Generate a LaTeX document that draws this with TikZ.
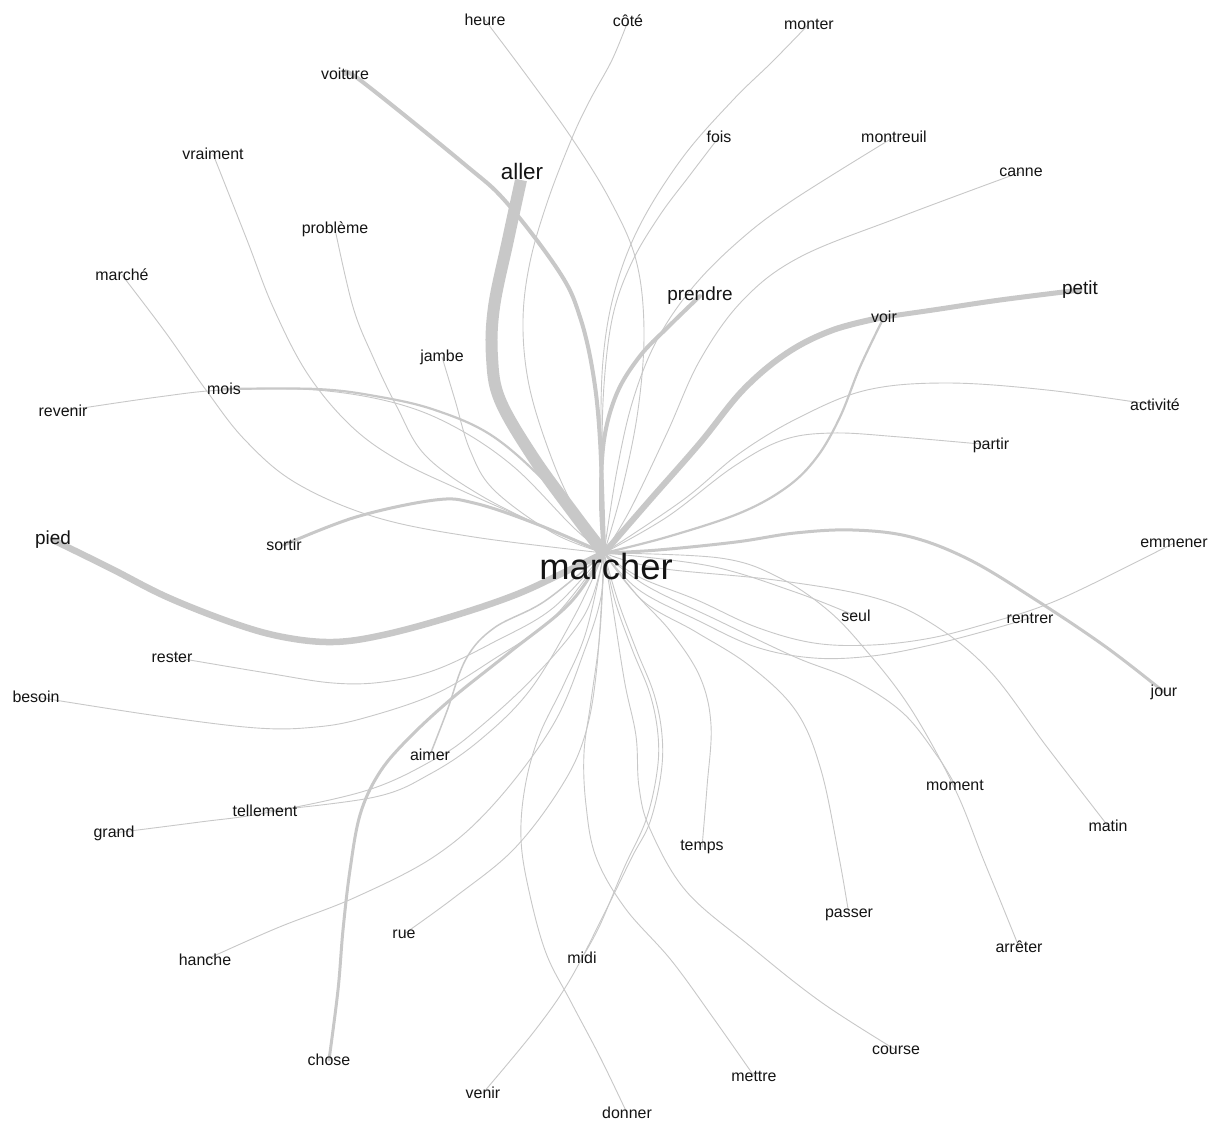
\documentclass[tikz,border=0pt]{standalone}
\usepackage{fontspec}
\setmainfont{Liberation Sans}
\definecolor{edgec}{RGB}{200,200,200}
\definecolor{txt}{RGB}{20,20,20}
\pgfdeclarelayer{edgelayer}
\pgfsetlayers{edgelayer,main}
\tikzset{
  lbl/.style={font=\fontsize{16}{17}\selectfont, inner sep=0pt, text=txt},
  lblm/.style={font=\fontsize{19}{20}\selectfont, inner sep=0pt, text=txt},
  lbla/.style={font=\fontsize{22.5}{24}\selectfont, inner sep=0pt, text=txt},
  lblh/.style={font=\fontsize{36.5}{38}\selectfont, inner sep=0pt, text=txt},
  lnk/.style={draw=edgec, line width=0.9bp, line cap=round, line join=round},
  lnkw/.style={draw=edgec, line width=#1, line cap=round, line join=round},
  curv/.style={smooth, tension=0.6}
}
\begin{document}
\begin{tikzpicture}[x=1bp,y=-1bp]
\useasboundingbox (0,0) rectangle (1210,1122);

% nodes
\node[lblh] (marcher) at (606,566) {marcher};
\coordinate (hub) at (604,553);
\node[lbl] (heure) at (485,20) {heure};
\node[lbl] (cote) at (628,21) {côté};
\node[lbl] (monter) at (809,24) {monter};
\node[lbl] (voiture) at (345,74) {voiture};
\node[lbl] (fois) at (719,137) {fois};
\node[lbl] (montreuil) at (894,137) {montreuil};
\node[lbl] (vraiment) at (213,154) {vraiment};
\node[lbla] (aller) at (522,171) {aller};
\node[lbl] (canne) at (1021,172) {canne};
\node[lbl] (probleme) at (335,229) {problème};
\node[lbl] (marche) at (122,275) {marché};
\node[lblm] (prendre) at (700,296) {prendre};
\node[lblm] (petit) at (1080,290) {petit};
\node[lbl] (voir) at (884,317) {voir};
\node[lbl] (jambe) at (442,357) {jambe};
\node[lbl] (mois) at (224,389) {mois};
\node[lbl] (revenir) at (63,411) {revenir};
\node[lbl] (activite) at (1155,405) {activité};
\node[lbl] (partir) at (991,445) {partir};
\node[lblm] (pied) at (53,540) {pied};
\node[lbl] (sortir) at (284,545) {sortir};
\node[lbl] (emmener) at (1174,543) {emmener};
\node[lbl] (seul) at (856,616) {seul};
\node[lbl] (rentrer) at (1030,618) {rentrer};
\node[lbl] (rester) at (172,657) {rester};
\node[lbl] (jour) at (1164,692) {jour};
\node[lbl] (besoin) at (36,697) {besoin};
\node[lbl] (aimer) at (430,755) {aimer};
\node[lbl] (moment) at (955,785) {moment};
\node[lbl] (tellement) at (265,811) {tellement};
\node[lbl] (matin) at (1108,826) {matin};
\node[lbl] (grand) at (114,833) {grand};
\node[lbl] (temps) at (702,847) {temps};
\node[lbl] (passer) at (849,915) {passer};
\node[lbl] (rue) at (404,934) {rue};
\node[lbl] (arreter) at (1019,947) {arrêter};
\node[lbl] (hanche) at (205,960) {hanche};
\node[lbl] (midi) at (582,958) {midi};
\node[lbl] (course) at (896,1050) {course};
\node[lbl] (chose) at (329,1060) {chose};
\node[lbl] (mettre) at (754,1076) {mettre};
\node[lbl] (venir) at (483,1093) {venir};
\node[lbl] (donner) at (627,1113) {donner};

\begin{pgfonlayer}{edgelayer}
\fill[white] (0,0) rectangle (1210,1122);
% upper
\draw[lnk] plot[curv] coordinates {(heure.center) (530,80) (573,140) (610,200) (636,260) (644,330) (638,410) (622,490) (hub)};
\draw[lnk] plot[curv] coordinates {(cote.center) (612,60) (590,100) (572,138) (548,200) (530,262) (523,320) (528,380) (545,440) (570,500) (hub)};
\draw[lnk] plot[curv] coordinates {(monter.center) (772,62) (733,100) (683,157) (640,225) (615,290) (603,360) (601,450) (hub)};
\draw[lnk] plot[curv] coordinates {(fois.center) (690,175) (660,215) (632,262) (613,315) (604,385) (602,465) (hub)};
\draw[lnk] plot[curv] coordinates {(montreuil.center) (793,200) (740,240) (693,287) (657,340) (633,400) (617,470) (hub)};
\draw[lnk] plot[curv] coordinates {(canne.center) (900,217) (800,257) (743,300) (700,360) (667,433) (630,510) (hub)};
\draw[lnkw=4bp] plot[curv] coordinates {(prendre.center) (667,328) (640,356) (617,393) (604,440) (601,500) (hub)};
\draw[lnkw=4bp] plot[curv] coordinates {(voiture.center) (360,80) (463,163) (507,203) (560,273) (580,317) (593,373) (600,440) (hub)};
\draw[lnkw=12bp, line cap=butt] plot[curv] coordinates {(521,180) (508,240) (494,307) (492,357) (500,400) (533,457) (575,515) (hub)};
% voir / petit
\draw[lnkw=6bp] plot[curv] coordinates {(voir.center) (833,330) (787,353) (743,390) (700,443) (650,500) (hub)};
\draw[lnkw=5bp] plot[curv] coordinates {(voir.center) (933,310) (1000,300) (petit.center)};
\draw[lnkw=2.2bp] plot[curv] coordinates {(voir.center) (860,367) (840,417) (817,457) (787,487) (740,513) (667,537) (hub)};
% right
\draw[lnk] plot[curv] coordinates {(activite.center) (1047,390) (947,383) (867,390) (800,417) (740,453) (683,500) (hub)};
\draw[lnk] plot[curv] coordinates {(partir.center) (900,437) (833,433) (783,440) (733,467) (667,517) (hub)};
\draw[lnkw=3bp] plot[curv] coordinates {(jour.center) (1106,647) (1036,600) (970,560) (911,537) (853,530) (795,533) (736,542) (658,550) (hub)};
\draw[lnk] plot[curv] coordinates {(emmener.center) (1086,587) (1040,607) (989,623) (931,638) (872,645) (814,643) (756,627) (697,600) (639,577) (hub)};
\draw[lnk] plot[curv] coordinates {(rentrer.center) (989,630) (931,645) (872,656) (814,658) (756,647) (697,620) (639,590) (hub)};
\draw[lnk] plot[curv] coordinates {(seul.center) (795,592) (710,566) (hub)};
\draw[lnk] plot[curv] coordinates {(matin.center) (1047,747) (989,670) (931,623) (872,597) (775,580) (658,568) (hub)};
\draw[lnk] plot[curv] coordinates {(arreter.center) (1000,900) (982,856) (960,800) (935,750) (905,700) (870,655) (830,612) (780,578) (720,558) (hub)};
\draw[lnk] plot[curv] coordinates {(moment.center) (938,757) (903,713) (853,680) (795,657) (717,620) (645,585) (hub)};
% bottom
\draw[lnk] plot[curv] coordinates {(passer.center) (839,857) (821,770) (796,711) (750,666) (696,632) (643,601) (hub)};
\draw[lnk] plot[curv] coordinates {(temps.center) (707,787) (711,725) (700,677) (671,632) (636,594) (hub)};
\draw[lnk] plot[curv] coordinates {(course.center) (821,1002) (750,946) (686,891) (650,829) (639,787) (636,736) (625,684) (614,615) (hub)};
\draw[lnk] plot[curv] coordinates {(mettre.center) (714,1019) (671,960) (625,908) (596,857) (586,805) (584,753) (591,701) (600,632) (hub)};
\draw[lnk] plot[curv] coordinates {(donner.center) (600,1057) (571,1002) (546,953) (529,891) (521,839) (525,787) (539,736) (564,684) (586,632) (hub)};
\draw[lnk] plot[curv] coordinates {(venir.center) (536,1029) (571,978) (607,908) (632,857) (650,822) (661,774) (662,735) (654,694) (636,649) (618,601) (hub)};
\draw[lnk] plot[curv] coordinates {(midi.center) (600,925) (624,868) (646,820) (657,772) (658,735) (650,694) (632,649) (615,601) (hub)};
\draw[lnk] plot[curv] coordinates {(rue.center) (455,897) (514,849) (561,787) (585,735) (597,666) (hub)};
\draw[lnk] plot[curv] coordinates {(hanche.center) (277,928) (356,897) (435,856) (494,804) (553,725) (585,649) (601,597) (hub)};
\draw[lnkw=3bp] plot[curv] coordinates {(chose.center) (338,990) (343,930) (350,870) (360,815) (378,775) (405,742) (450,700) (510,652) (570,603) (hub)};
% left
\draw[lnkw=1.5bp] plot[curv] coordinates {(aimer.center) (447,711) (466,659) (494,628) (545,601) (hub)};
\draw[lnk] plot[curv] coordinates {(tellement.center) (375,797) (430,774) (480,740) (530,690) (575,615) (hub)};
\draw[lnk] plot[curv] coordinates {(grand.center) (200,822) (265,813) (368,790) (435,759) (474,732) (534,677) (585,614) (hub)};
\draw[lnk] plot[curv] coordinates {(rester.center) (267,673) (333,683) (383,682) (435,670) (494,642) (553,608) (hub)};
\draw[lnk] plot[curv] coordinates {(besoin.center) (158,716) (257,728) (316,727) (364,718) (435,694) (494,659) (553,618) (hub)};
\draw[lnkw=6.5bp] plot[curv] coordinates {(pied.center) (110,568) (167,597) (233,623) (283,637) (333,642) (383,635) (450,617) (515,595) (565,572) (hub)};
\draw[lnkw=3bp] plot[curv] coordinates {(sortir.center) (356,517) (435,500) (474,503) (534,523) (hub)};
\draw[lnk] plot[curv] coordinates {(revenir.center) (158,397) (224,390) (316,390) (395,403) (455,427) (514,467) (573,527) (hub)};
\draw[lnkw=2.2bp] plot[curv] coordinates {(mois.center) (316,389) (375,396) (435,410) (494,437) (553,490) (hub)};
\draw[lnk] plot[curv] coordinates {(marche.center) (166,333) (206,390) (245,440) (296,483) (375,517) (474,537) (hub)};
\draw[lnk] plot[curv] coordinates {(vraiment.center) (247,240) (273,307) (307,373) (350,425) (398,460) (465,492) (540,525) (hub)};
\draw[lnk] plot[curv] coordinates {(probleme.center) (353,307) (373,357) (397,407) (425,455) (480,495) (550,530) (hub)};
\draw[lnk] plot[curv] coordinates {(jambe.center) (455,400) (470,450) (494,490) (553,533) (hub)};
\end{pgfonlayer}
\end{tikzpicture}
\end{document}
